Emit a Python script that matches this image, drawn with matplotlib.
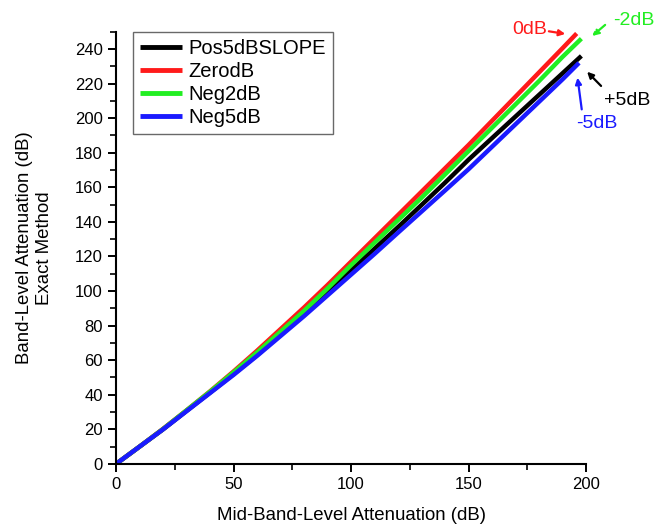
import numpy as np
import matplotlib
matplotlib.use('Agg')
import matplotlib.pyplot as plt
from matplotlib.ticker import MultipleLocator

plt.rcParams['font.family'] = ['Liberation Sans', 'DejaVu Sans']

# ── Curves: mid-band attenuation vs band-level attenuation (exact) ──────────
x_pos5 = [0, 10, 20, 30, 40, 50, 60, 70, 80, 90, 100, 110, 120, 130, 140, 150, 160, 170, 180, 190, 198]
y_pos5 = [0, 10, 20, 30.7, 41.3, 52, 63, 74.8, 86.7, 99, 112, 124.5, 137, 149.8, 162.7, 176, 188.5, 201, 213.5, 226, 236]

x_zero = [0, 10, 20, 30, 40, 50, 60, 70, 80, 90, 100, 110, 120, 130, 140, 150, 160, 170, 180, 190, 196]
y_zero = [0, 10, 20.3, 31, 42, 53.5, 65.5, 78, 90.5, 103.5, 117, 130.5, 144, 157.5, 171, 184.5, 198.5, 212.5, 226.5, 240.5, 249]

x_neg2 = [0, 10, 20, 30, 40, 50, 60, 70, 80, 90, 100, 110, 120, 130, 140, 150, 160, 170, 180, 190, 198]
y_neg2 = [0, 10, 20.2, 31, 41.8, 53, 64.5, 76.5, 88.5, 101.5, 115, 128, 141, 154, 167.5, 181, 194.5, 208, 221.5, 235.5, 246]

x_neg5 = [0, 10, 20, 30, 40, 50, 60, 70, 80, 90, 100, 110, 120, 130, 140, 150, 160, 170, 180, 190, 197]
y_neg5 = [0, 10, 20, 30.5, 41, 51.5, 62.5, 74, 85.5, 97.5, 109.5, 121.5, 133.8, 146, 158.2, 170.5, 183.5, 196.5, 209.5, 222.5, 232]

labels = ['Pos5dBSLOPE', 'ZerodB', 'Neg2dB', 'Neg5dB']
colors = ['#000000', '#ff1a1a', '#22ee22', '#1a1aff']

fig = plt.figure(figsize=(6.63, 5.29), dpi=100)
ax = fig.add_axes([0.175, 0.123, 0.709, 0.817])

series = [(x_pos5, y_pos5), (x_zero, y_zero), (x_neg2, y_neg2), (x_neg5, y_neg5)]
for (xs, ys), lab, col in zip(series, labels, colors):
    ax.plot(xs, ys, color=col, lw=3.2, label=lab, solid_capstyle='butt')

ax.set_xlim(0, 200)
ax.set_ylim(0, 250)
ax.xaxis.set_major_locator(MultipleLocator(50))
ax.xaxis.set_minor_locator(MultipleLocator(25))
ax.yaxis.set_major_locator(MultipleLocator(20))
ax.yaxis.set_minor_locator(MultipleLocator(10))
ax.tick_params(which='major', direction='out', length=6, width=1.4, labelsize=12)
ax.tick_params(which='minor', direction='out', length=4, width=1.2)
for side in ['top', 'right']:
    ax.spines[side].set_visible(False)
for side in ['left', 'bottom']:
    ax.spines[side].set_linewidth(1.5)

ax.set_xlabel('Mid-Band-Level Attenuation (dB)', fontsize=13.4, labelpad=11)
ax.set_ylabel('Band-Level Attenuation (dB)\nExact Method', fontsize=13.4, labelpad=16)

leg = ax.legend(loc='upper left', bbox_to_anchor=(0.036, 1.0), fontsize=14.5,
                frameon=True, fancybox=False, edgecolor='#444444',
                handlelength=2.1, handletextpad=0.3, labelspacing=0.2,
                borderaxespad=0.0, borderpad=0.35)
leg.get_frame().set_linewidth(1.0)
for h in leg.get_lines():
    h.set_linewidth(3.5)

# ── Callouts for the curve ends ─────────────────────────────────────────────
ax.text(176, 251.5, '0dB', color=colors[1], fontsize=14, ha='center', va='center', clip_on=False)
ax.annotate('', xy=(192.3, 248.5), xytext=(183, 250.5),
            arrowprops=dict(arrowstyle='-|>', color=colors[1], lw=1.6, mutation_scale=9),
            annotation_clip=False)

ax.text(220.5, 256.5, '-2dB', color=colors[2], fontsize=14, ha='center', va='center', clip_on=False)
ax.annotate('', xy=(201.7, 246.5), xytext=(209, 255),
            arrowprops=dict(arrowstyle='-|>', color=colors[2], lw=1.6, ls='--', mutation_scale=9),
            annotation_clip=False)

ax.text(217.5, 210, '+5dB', color='black', fontsize=14, ha='center', va='center', clip_on=False)
ax.annotate('', xy=(199.6, 228), xytext=(207.2, 217.5),
            arrowprops=dict(arrowstyle='-|>', color='black', lw=1.6, mutation_scale=9),
            annotation_clip=False)

ax.text(204.7, 197, '-5dB', color=colors[3], fontsize=14, ha='center', va='center', clip_on=False)
ax.annotate('', xy=(196.2, 225), xytext=(198.3, 203.5),
            arrowprops=dict(arrowstyle='-|>', color=colors[3], lw=1.6, mutation_scale=9),
            annotation_clip=False)

plt.savefig('out.png', dpi=100)
plt.close()
